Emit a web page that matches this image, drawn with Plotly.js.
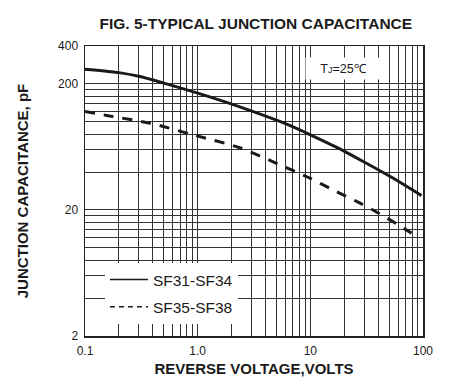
<!DOCTYPE html>
<html>
<head>
<meta charset="utf-8">
<script src="https://cdn.plot.ly/plotly-3.0.1.min.js"></script>
<style>html,body{margin:0;padding:0;background:#fff;}#chart{width:452px;height:391px;}</style>
</head>
<body>
<div id="chart"></div>
<script>
// ---- data (reverse voltage in V, capacitance in pF) ----
const seriesNames = ["SF31-SF34", "SF35-SF38"];
const voltsA = [0.1, 0.2, 0.3, 0.5, 1.0, 2.4, 5.8, 10, 17, 30, 55, 97];
const capA   = [262, 246, 230, 203, 169, 131, 98, 79, 63, 48, 35.5, 26];
const voltsB = [0.1, 0.16, 0.38, 0.91, 2.4, 5.4, 9.3, 17, 26, 36, 54, 79];
const capB   = [121, 112, 97.5, 79, 62, 45.5, 36.7, 28, 23.3, 20, 16.2, 13.1];

// ---- axis grid / tick labels ----
const xTickVals = [0.1,0.2,0.3,0.4,0.5,0.6,0.7,0.8,0.9,1,2,3,4,5,6,7,8,9,10,20,30,40,50,60,70,80,90,100];
const xTickText = ["0.1","","","","","","","","","1.0","","","","","","","","","10","","","","","","","","","100"];
const yTickVals = [2,4,6,8,10,12,14,16,18,20,40,60,80,100,120,140,160,180,200,400];
const yTickText = ["2","","","","","","","","","20","","","","","","","","","200","400"];

const FONT = "Liberation Sans, Arial, Helvetica, sans-serif";
const INK = "#1a1a1a";

const traces = [
  {x: voltsA, y: capA, type: "scatter", mode: "lines", showlegend: false,
   line: {color: INK, width: 3, shape: "spline", smoothing: 0.8}},
  {x: voltsB, y: capB, type: "scatter", mode: "lines", showlegend: false,
   line: {color: INK, width: 3, dash: "10px,9px", shape: "spline", smoothing: 0.8}},
  // legend entries (thin sample lines as in the reference)
  {x: [null], y: [null], type: "scatter", mode: "lines", name: seriesNames[0], legendgroup: "a",
   line: {color: INK, width: 1.5}},
  {x: [null], y: [null], type: "scatter", mode: "lines", name: seriesNames[1], legendgroup: "b",
   line: {color: INK, width: 1.5, dash: "5px,4px"}}
];

const layout = {
  width: 452, height: 391,
  margin: {l: 85, r: 29, t: 46, b: 55, pad: 0},
  paper_bgcolor: "#fff", plot_bgcolor: "#fff",
  font: {family: FONT, color: INK, size: 12},
  title: {text: "<b>FIG. 5-TYPICAL JUNCTION CAPACITANCE</b>", font: {family: FONT, size: 15.5, color: INK},
          x: 0.566, xanchor: "center", y: 0.94, yanchor: "middle"},
  xaxis: {
    type: "log", range: [Math.log10(0.1), Math.log10(100)],
    tickvals: xTickVals, ticktext: xTickText, ticks: "", ticklabelstandoff: 3,
    tickfont: {size: 12, color: INK},
    showgrid: true, gridcolor: "#333", gridwidth: 1,
    showline: true, linecolor: "#222", linewidth: 1.5, mirror: true, zeroline: false,
    title: {text: "<b>REVERSE VOLTAGE,VOLTS</b>", font: {size: 15, color: INK}, standoff: 6}
  },
  yaxis: {
    type: "log", range: [Math.log10(2), Math.log10(400)],
    tickvals: yTickVals, ticktext: yTickText, ticks: "", ticklabelstandoff: 3,
    tickfont: {size: 12, color: INK},
    showgrid: true, gridcolor: "#333", gridwidth: 1,
    showline: true, linecolor: "#222", linewidth: 1.5, mirror: true, zeroline: false,
    title: {text: "<b>JUNCTION CAPACITANCE, pF</b>", font: {size: 15, color: INK}, standoff: 26}
  },
  legend: {
    x: 0.059, y: 0.252, xanchor: "left", yanchor: "top",
    bgcolor: "#fff", borderwidth: 0, itemwidth: 38, entrywidth: 136,
    font: {family: FONT, size: 15.5, color: INK},
    traceorder: "grouped", tracegroupgap: 4
  },
  annotations: [{
    xref: "paper", yref: "paper", x: 0.765, y: 0.921, xanchor: "center", yanchor: "middle",
    text: "T<span style=\"font-size:9px\">J</span>=25℃", showarrow: false,
    font: {family: FONT, size: 12.5, color: INK},
    bgcolor: "#fff", width: 73, height: 19, borderpad: 1
  }]
};

Plotly.newPlot("chart", traces, layout, {displayModeBar: false, staticPlot: true});
</script>
</body>
</html>
